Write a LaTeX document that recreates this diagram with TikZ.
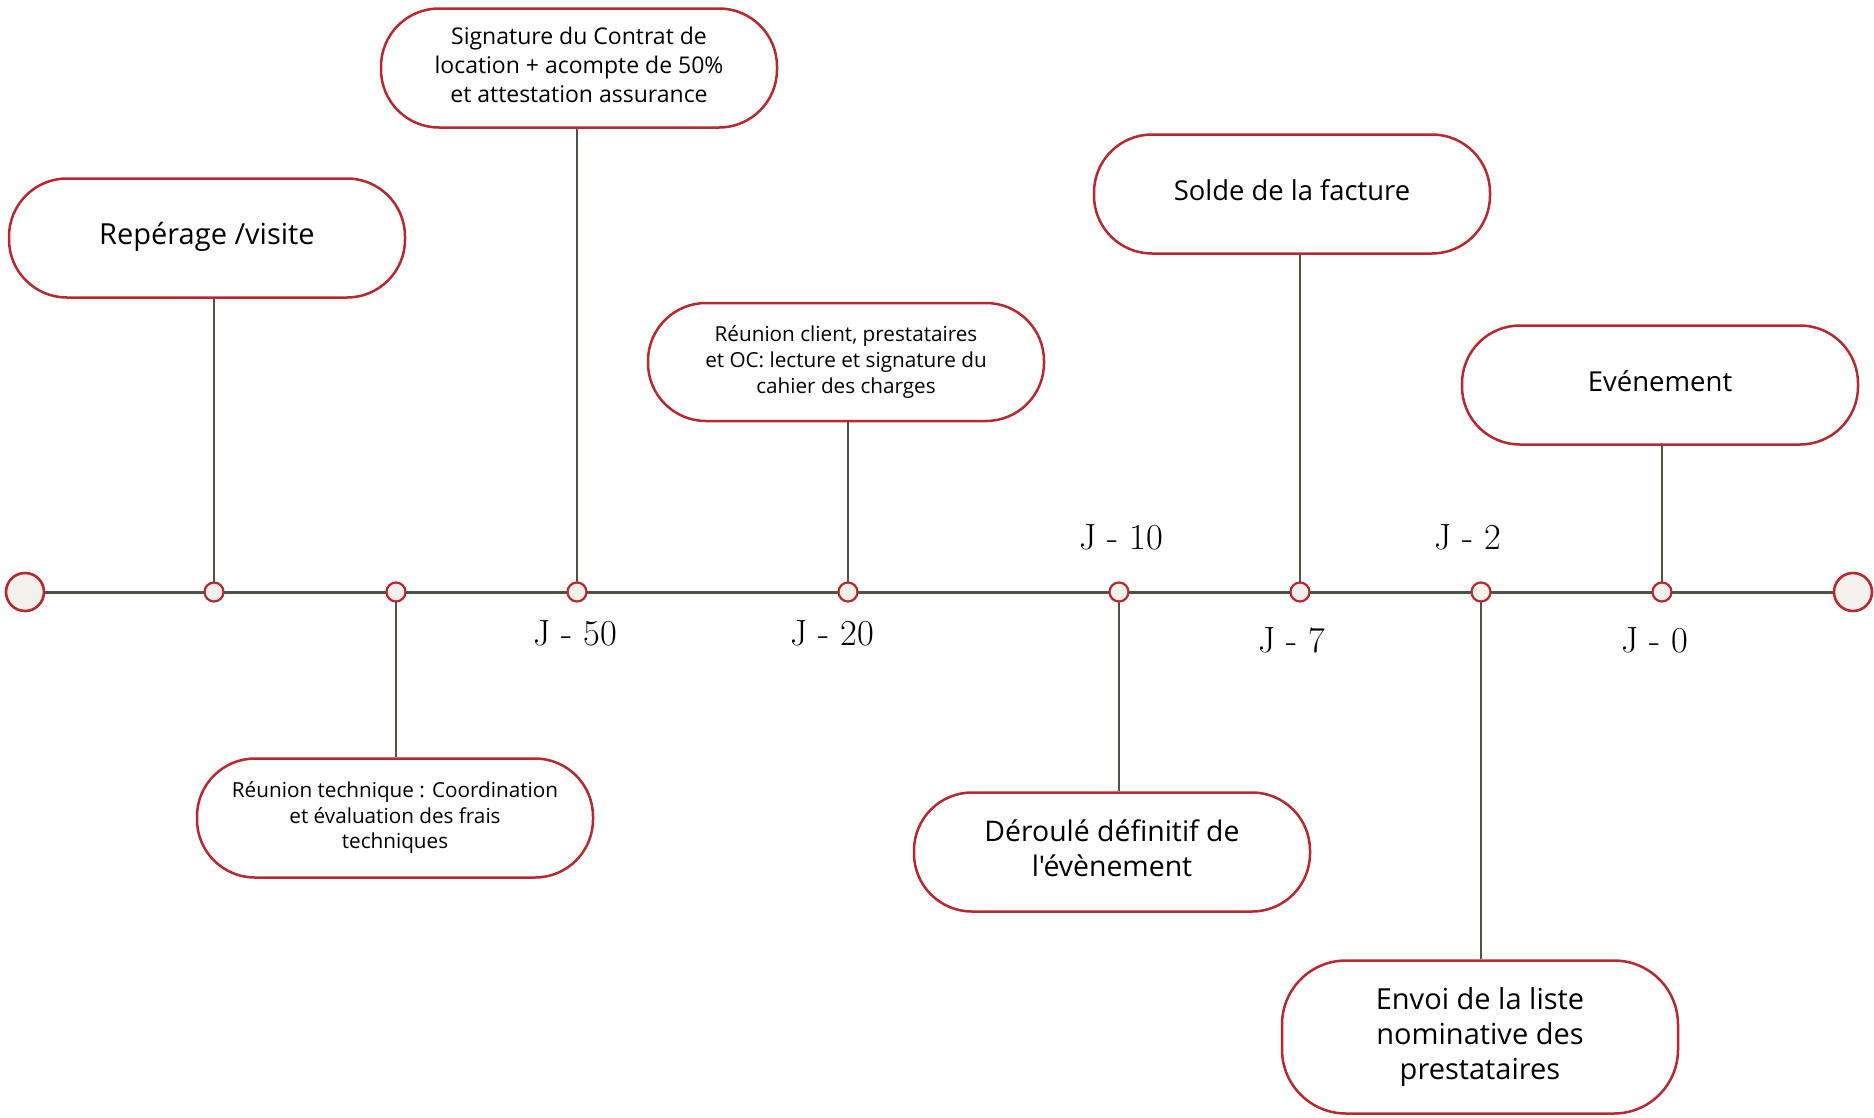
\documentclass[tikz,border=0pt]{standalone}
\usepackage{fontspec}
\newfontfamily\boxfont{Open Sans}
\usetikzlibrary{backgrounds}
\definecolor{evred}{HTML}{B8282E}
\definecolor{tlgreen}{HTML}{4A5546}
\definecolor{dotfill}{HTML}{F4F1EC}
\newcommand{\liftbox}[2]{\raisebox{#1}{\begin{tabular}{@{}c@{}}#2\end{tabular}}}
\tikzset{
  evt/.style={draw=evred, line width=2.5pt, fill=white, rounded corners=58pt,
    minimum width=396pt, minimum height=119pt, inner sep=0pt, align=center, font=\boxfont},
  dot/.style={circle, draw=evred, fill=dotfill, line width=2.2pt, minimum size=19pt, inner sep=0pt},
  bigdot/.style={dot, minimum size=38pt, line width=2.6pt},
  tl/.style={draw=tlgreen, line width=3pt},
  conn/.style={draw=tlgreen, line width=2.4pt},
  jlab/.style={font=\fontsize{36.5}{42}\selectfont, inner sep=0pt}
}
\begin{document}
\begin{tikzpicture}[x=1pt,y=-1pt]
\useasboundingbox (0,0) rectangle (1874,1117);
% timeline dots
\node[bigdot] (L) at (25,592) {};
\node[bigdot] (R) at (1853,592) {};
\node[dot] (t1) at (214,592) {};
\node[dot] (t2) at (396,592) {};
\node[dot] (t3) at (577,592) {};
\node[dot] (t4) at (848,592) {};
\node[dot] (t5) at (1119,592) {};
\node[dot] (t6) at (1300,592) {};
\node[dot] (t7) at (1481,592) {};
\node[dot] (t8) at (1662,592) {};
% event boxes
\node[evt, font=\boxfont\fontsize{29}{34}\selectfont] (rep) at (207,238) {\liftbox{0pt}{Repérage /visite}};
\node[evt, font=\boxfont\fontsize{23}{29}\selectfont] (sig) at (579,68) {\liftbox{2.4pt}{Signature du Contrat de\\location + acompte de 50\%\\et attestation assurance}};
\node[evt, font=\boxfont\fontsize{20.7}{26}\selectfont, minimum height=118pt] (cli) at (846,362) {\liftbox{2.4pt}{Réunion client, prestataires\\et OC: lecture et signature du\\cahier des charges}};
\node[evt, font=\boxfont\fontsize{20.7}{25.5}\selectfont] (tec) at (395,818) {\liftbox{1pt}{Réunion technique : Coordination\\et évaluation des frais\\techniques}};
\node[evt, font=\boxfont\fontsize{28.4}{34.5}\selectfont] (der) at (1112,852) {\liftbox{3.5pt}{Déroulé définitif de\\l'évènement}};
\node[evt, font=\boxfont\fontsize{27.4}{33}\selectfont] (sol) at (1292,194) {\liftbox{6pt}{Solde de la facture}};
\node[evt, font=\boxfont\fontsize{27.5}{33}\selectfont] (eve) at (1660,385) {\liftbox{1pt}{Evénement}};
\node[evt, font=\boxfont\fontsize{29}{35}\selectfont, minimum height=153pt, rounded corners=64pt] (env) at (1480,1037) {\liftbox{2.4pt}{Envoi de la liste\\nominative des\\prestataires}};
% day labels
\node[jlab] (j50) at (575,633.5) {J - 50};
\node[jlab] (j20) at (832,633.5) {J - 20};
\node[jlab] (j10) at (1121,537.5) {J - 10};
\node[jlab] (j7) at (1292,640.5) {J - 7};
\node[jlab] (j2) at (1468,537.5) {J - 2};
\node[jlab] (j0) at (1655,640.5) {J - 0};
\begin{pgfonlayer}{background}
\draw[tl] (L.center) -- (R.center);
\draw[conn] (t1 |- rep.south) -- (t1.center);
\draw[conn] (t3 |- sig.south) -- (t3.center);
\draw[conn] (t4 |- cli.south) -- (t4.center);
\draw[conn] (t6 |- sol.south) -- (t6.center);
\draw[conn] (t8 |- eve.south) -- (t8.center);
\draw[conn] (t2.center) -- (t2 |- tec.north);
\draw[conn] (t5.center) -- (t5 |- der.north);
\draw[conn] (t7.center) -- (t7 |- env.north);
\end{pgfonlayer}
\end{tikzpicture}
\end{document}
